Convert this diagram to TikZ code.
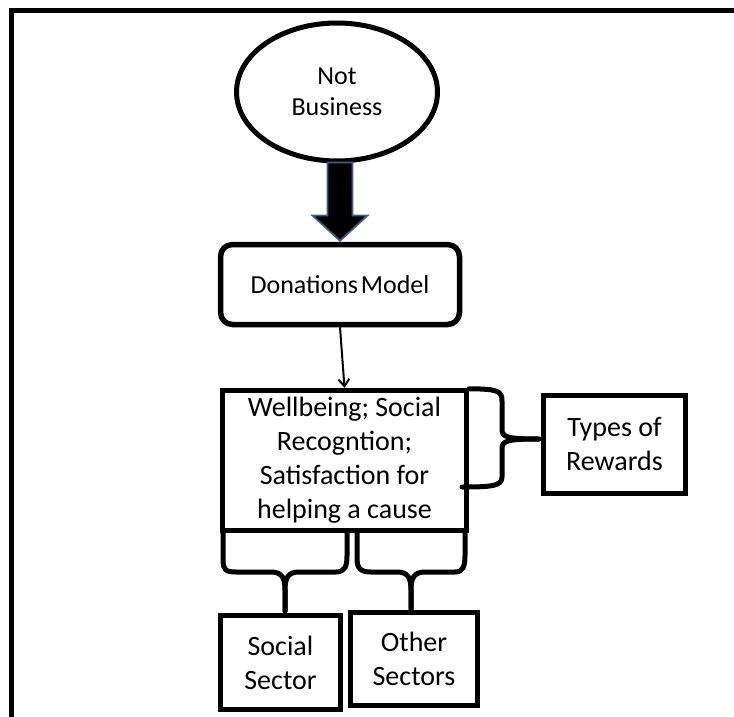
\documentclass[tikz,border=0pt]{standalone}
\usepackage{fontspec}
\setmainfont{Carlito}
\usetikzlibrary{arrows.meta,calc,shapes.geometric}
\definecolor{arrowedge}{HTML}{3E5F8A}
\tikzset{
  box/.style={draw=black, line width=5.5pt, fill=white, align=center, inner sep=0pt,
    font=\fontsize{28}{34}\selectfont},
  brace/.style={draw=black, line width=5pt, line join=round, line cap=round},
  thinarrow/.style={draw=black, line width=2pt, -{Straight Barb[length=7pt,width=11pt,line width=2pt]}},
}
\begin{document}
\begin{tikzpicture}[x=1pt,y=-1pt]
\useasboundingbox (0,0) rectangle (734,717);
% frame
\draw[line width=5.5pt] (11.5,717) -- (11.5,10.5) -- (734,10.5);

% nodes
\node[draw=black, line width=5pt, ellipse, minimum width=201pt, minimum height=138pt,
      align=center, inner sep=0pt, font=\fontsize{26}{31}\selectfont] (nb) at (337,92) {Not\\Business};
\node[box, rounded corners=12pt, minimum width=239pt, minimum height=80pt,
      font=\fontsize{26}{31}\selectfont] (don) at (340,284.5) {Donations\hspace{-0.12em} Model};
\node[box, minimum width=244pt, minimum height=140pt] (wb) at (344.5,460.5)
  {Wellbeing; Social\\Recogntion;\\Satisfaction for\\helping a cause};
\node[box, minimum width=142pt, minimum height=98pt] (types) at (614.5,444.5) {Types of\\Rewards};
\node[box, minimum width=120pt, minimum height=94pt] (social) at (280.5,662.5) {Social\\Sector};
\node[box, minimum width=127pt, minimum height=93pt] (other) at (414,659) {Other\\Sectors};

% block arrow
\coordinate (aTop) at ($(nb.south)+(3,0)$);
\filldraw[fill=black, draw=arrowedge, line width=1.8pt, line join=miter]
  ($(aTop)+(-12.5,-1)$) -- ($(aTop)+(12.5,-1)$) -- ($(aTop)+(12.5,52)$)
  -- ($(aTop)+(27.5,52)$) -- ($(don.north)+(0,-1)$) -- ($(aTop)+(-27.5,52)$)
  -- ($(aTop)+(-12.5,52)$) -- cycle;

% thin arrow
\draw[thinarrow] (don.south) -- (wb.north);

% right brace
\coordinate (tipR) at (539,439);
\draw[brace] ($(wb.north east)+(0,1)$) .. controls (498,389) and (502,391) .. (502,401) -- (502,429)
  .. controls (502,437) and (506,439) .. (tipR);
\draw[brace] (tipR) .. controls (506,439) and (502,441) .. (502,449) -- (502,477)
  .. controls (502,486) and (492,487) .. (462,487);

% bottom left brace
\coordinate (tipS) at (285,611);
\draw[brace] (223,533) -- (223,560) .. controls (223,570) and (226,572) .. (236,572) -- (271,572)
  .. controls (282,572) and (285,578) .. (285,590) -- (tipS);
\draw[brace] (tipS) -- (285,590) .. controls (285,578) and (288,572) .. (299,572) -- (336,572)
  .. controls (345,572) and (347,566) .. (347,556) -- (347,533);

% bottom right brace
\coordinate (tipO) at (411,609);
\draw[brace] (357,533) -- (357,558) .. controls (357,568) and (360,572) .. (371,572) -- (397,572)
  .. controls (408,572) and (411,578) .. (411,590) -- (tipO);
\draw[brace] (tipO) -- (411,590) .. controls (411,578) and (414,572) .. (425,572) -- (455,572)
  .. controls (463,572) and (465,566) .. (465,556) -- (465,533);
\end{tikzpicture}
\end{document}
